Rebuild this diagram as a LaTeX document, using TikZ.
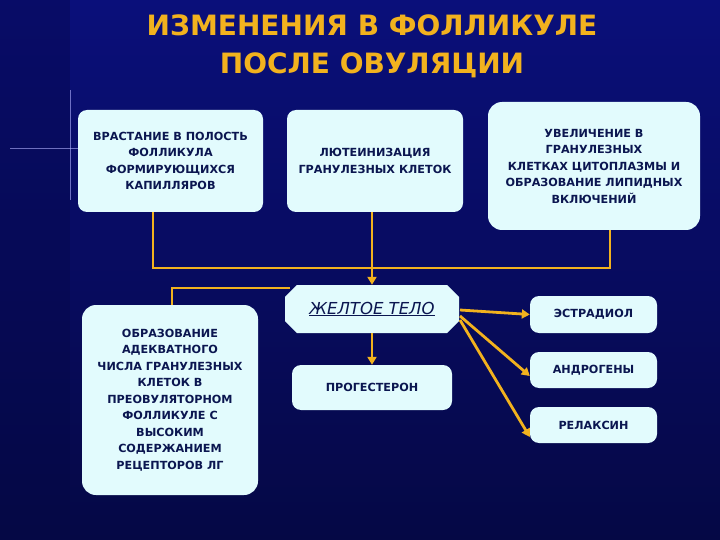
\documentclass[tikz,border=0pt]{standalone}
\usepackage{fontspec}
\setmainfont{DejaVu Sans}
\usetikzlibrary{shapes.misc,arrows.meta}
\definecolor{bgA}{HTML}{0A0F7A}
\definecolor{bgB}{HTML}{050845}
\definecolor{boxc}{HTML}{E2FBFD}
\definecolor{txt}{HTML}{0B1650}
\definecolor{ttl}{HTML}{F2B21E}
\definecolor{ln}{HTML}{F2B21E}
\tikzset{
  box/.style={fill=boxc,rounded corners=9pt,align=center,text=txt,font=\bfseries\fontsize{11.2}{16.5}\selectfont,inner sep=1pt},
  conn/.style={draw=ln,line width=2.8pt},
  arr/.style={conn,-{Triangle[length=8pt,width=9pt]}}
}
\begin{document}
\begin{tikzpicture}[x=1pt,y=-1pt]
\useasboundingbox (0,0) rectangle (720,540);
\shade[top color=bgA,bottom color=bgB] (0,0) rectangle (720,540);
\fill[bgB,opacity=0.35] (0,0) rectangle (70,540);
\draw[white!70!blue,opacity=0.6,line width=0.6pt] (70,90) -- (70,200);
\draw[white!70!blue,opacity=0.6,line width=0.6pt] (10,148) -- (140,148);
\node[text=ttl,font=\bfseries\fontsize{28}{38}\selectfont,align=center] (title) at (372,46) {ИЗМЕНЕНИЯ В ФОЛЛИКУЛЕ\\ПОСЛЕ ОВУЛЯЦИИ};
\node[box,minimum width=185pt,minimum height=102pt] (b1) at (170.5,161) {ВРАСТАНИЕ В ПОЛОСТЬ\\ФОЛЛИКУЛА\\ФОРМИРУЮЩИХСЯ\\КАПИЛЛЯРОВ};
\node[box,minimum width=176pt,minimum height=102pt] (b2) at (375,161) {ЛЮТЕИНИЗАЦИЯ\\ГРАНУЛЕЗНЫХ КЛЕТОК};
\node[box,minimum width=212pt,minimum height=128pt,rounded corners=14pt] (b3) at (594,166) {УВЕЛИЧЕНИЕ В\\ГРАНУЛЕЗНЫХ\\КЛЕТКАХ ЦИТОПЛАЗМЫ И\\ОБРАЗОВАНИЕ ЛИПИДНЫХ\\ВКЛЮЧЕНИЙ};
\node[box,chamfered rectangle,chamfered rectangle xsep=10pt,rounded corners=0pt,minimum width=174pt,minimum height=48pt,font=\fontsize{16.5}{18}\selectfont,anchor=center] (ct) at (372,309) {\underline{\itshape ЖЕЛТОЕ ТЕЛО}};
\node[box,minimum width=176pt,minimum height=190pt,rounded corners=14pt] (b4) at (170,400) {ОБРАЗОВАНИЕ\\АДЕКВАТНОГО\\ЧИСЛА ГРАНУЛЕЗНЫХ\\КЛЕТОК В\\ПРЕОВУЛЯТОРНОМ\\ФОЛЛИКУЛЕ С\\ВЫСОКИМ\\СОДЕРЖАНИЕМ\\РЕЦЕПТОРОВ ЛГ};
\node[box,minimum width=160pt,minimum height=45pt] (pg) at (372,387.5) {ПРОГЕСТЕРОН};
\node[box,minimum width=127pt,minimum height=37pt] (es) at (593.5,314.5) {ЭСТРАДИОЛ};
\node[box,minimum width=127pt,minimum height=36pt] (an) at (593.5,370) {АНДРОГЕНЫ};
\node[box,minimum width=127pt,minimum height=36pt] (re) at (593.5,425) {РЕЛАКСИН};
\coordinate (j1) at (153,268);
\coordinate (j3) at (610,268);
\draw[conn] (153,212) -- (j1) -- (j3) -- (610,230);
\draw[conn] (372,212) -- (372,268);
\draw[arr] (372,266) -- (ct.north);
\draw[conn] (172,305) -- (172,288) -- (290,288);
\draw[arr] (ct.south) -- (pg.north);
\draw[arr] (460,310) -- (es.west);
\draw[arr] (460,316) -- ([yshift=-6pt]an.west);
\draw[arr] (460,320) -- ([yshift=-12pt]re.west);
\end{tikzpicture}
\end{document}
